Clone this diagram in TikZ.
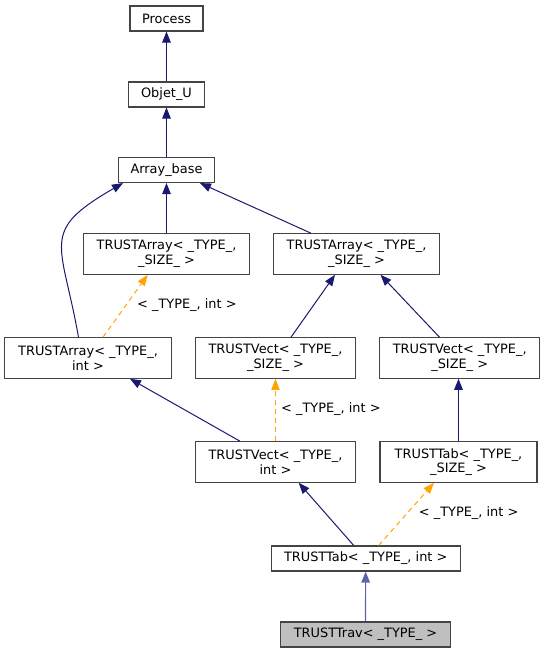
\documentclass[tikz,border=0pt]{standalone}
\usepackage{fontspec}
\setmainfont{DejaVu Sans}
\usetikzlibrary{arrows.meta}
\definecolor{edgeblue}{HTML}{191970}
\definecolor{lastblue}{HTML}{5D64A6}
\definecolor{tmplorange}{HTML}{FFA500}
\definecolor{boxline}{HTML}{444444}
\definecolor{hifill}{HTML}{BFBFBF}
\begin{document}
\begin{tikzpicture}[x=1pt,y=-1pt,
  cls/.style={draw=boxline,line width=1.1pt,fill=white,inner sep=0pt,align=center,
    font=\fontsize{12.9}{14.7}\selectfont},
  one/.style={cls,minimum height=25pt},
  two/.style={cls,minimum height=40.5pt},
  inh/.style={draw=edgeblue,line width=1pt,-{Triangle[length=11pt,width=8.5pt]}},
  tmpl/.style={draw=tmplorange,line width=1pt,dash pattern=on 5pt off 4pt,
    -{Triangle[length=11pt,width=8.5pt,fill=tmplorange,line width=0pt]}},
  lbl/.style={anchor=west,inner sep=0pt,font=\fontsize{12.9}{14.7}\selectfont}]
\useasboundingbox (0,0) rectangle (542,653);
\node[one,minimum width=73pt] (proc) at (166.5,18.5) {Process};
\node[one,minimum width=76pt] (obj) at (166.5,94.5) {Objet\_U};
\node[one,minimum width=96pt] (ab) at (166.5,170) {Array\_base};
\node[two,minimum width=166pt] (tal) at (166.5,254) {TRUSTArray< \_TYPE\_,\\\_SIZE\_ >};
\node[two,minimum width=166pt] (tar) at (356.5,254) {TRUSTArray< \_TYPE\_,\\\_SIZE\_ >};
\node[two,minimum width=167pt] (tai) at (88,358) {TRUSTArray< \_TYPE\_,\\int >};
\node[two,minimum width=160pt] (tvs1) at (275.5,358) {TRUSTVect< \_TYPE\_,\\\_SIZE\_ >};
\node[two,minimum width=160pt] (tvs2) at (459.7,358) {TRUSTVect< \_TYPE\_,\\\_SIZE\_ >};
\node[two,minimum width=160pt] (tvi) at (275.5,462) {TRUSTVect< \_TYPE\_,\\int >};
\node[two,minimum width=157pt] (tts) at (458.5,462) {TRUSTTab< \_TYPE\_,\\\_SIZE\_ >};
\node[one,minimum width=189pt] (tti) at (365.7,558.5) {TRUSTTab< \_TYPE\_, int >};
\node[one,minimum width=170pt,fill=hifill] (trav) at (365.5,634.5) {TRUSTTrav< \_TYPE\_ >};
% edges
\draw[inh] (obj) -- (proc);
\draw[inh] (ab) -- (obj);
\draw[inh] (tal) -- (ab);
\draw[inh] ([xshift=-9.5pt]tai.north) to[out=100,in=210,looseness=1.55] ([xshift=-43.5pt]ab.south);
\draw[inh] ([xshift=-45.5pt]tar.north) -- ([xshift=33.5pt]ab.south);
\draw[tmpl] ([xshift=15pt]tai.north) -- ([xshift=-18.8pt]tal.south);
\draw[inh] ([xshift=15.5pt]tvs1.north) -- ([xshift=-21.5pt]tar.south);
\draw[inh] ([xshift=-20.2pt]tvs2.north) -- ([xshift=24pt]tar.south);
\draw[inh] ([xshift=-35.5pt]tvi.north) -- ([xshift=42pt]tai.south);
\draw[tmpl,line width=1.4pt] (tvi) -- (tvs1);
\draw[inh] (tts.north) -- (tts.north |- tvs2.south);
\draw[inh] ([xshift=-12pt]tti.north) -- ([xshift=23.2pt]tvi.south);
\draw[tmpl] ([xshift=13pt]tti.north) -- ([xshift=-24.5pt]tts.south);
\draw[inh,draw=lastblue,line width=1.2pt] (trav) -- (tti);
% labels
\node[lbl] (l1) at (137,305) {< \_TYPE\_, int >};
\node[lbl] (l2) at (281,408.7) {< \_TYPE\_, int >};
\node[lbl] (l3) at (418.7,512.7) {< \_TYPE\_, int >};
\end{tikzpicture}
\end{document}
